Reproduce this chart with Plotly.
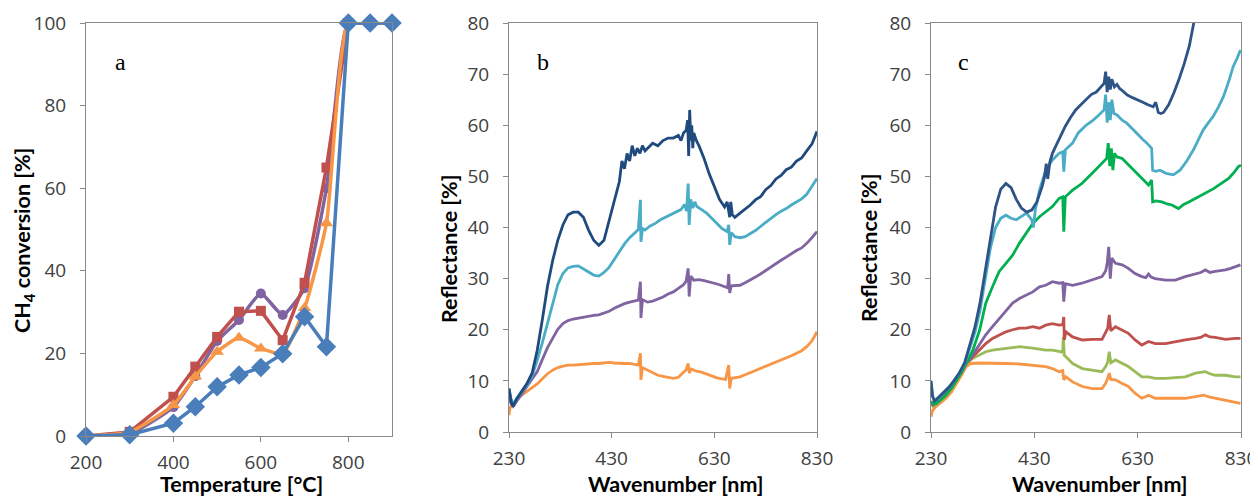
import plotly.graph_objects as go

# ---------------- Panel a: CH4 conversion ----------------
temp = [200, 300, 400, 450, 500, 550, 600, 650, 700, 750, 800, 850, 900]
conv_blue = [0, 0.3, 3.1, 7.1, 11.9, 14.8, 16.6, 19.9, 28.9, 21.6, 100, 100, 100]
conv_red = [0, 1.0, 9.5, 16.8, 24.0, 30.1, 30.3, 23.2, 37.1, 65.0, 100, 100, 100]
conv_purple = [0, 0.5, 7.0, 14.5, 23.0, 28.1, 34.5, 29.3, 35.8, 60.0, 100, 100, 100]
conv_orange = [0, 1.0, 7.5, 14.4, 20.4, 23.8, 21.2, 20.0, 31.0, 51.5, 100, 100, 100]

# ---------------- Panel b: reflectance spectra ----------------
b_navy_x = [230, 234, 238, 245, 255, 265, 275, 285, 295, 305, 315, 325, 335, 345, 355, 365, 375, 385, 395, 405,
            415, 425, 435, 445, 450, 455, 460, 465, 470, 475, 480, 485, 490, 495, 500, 510, 520, 530, 540, 550,
            560, 565, 570, 575, 578, 580, 582, 584, 586, 588, 590, 595, 600, 610, 620, 630, 640, 650, 655, 660,
            662, 665, 670, 680, 690, 700, 710, 720, 730, 740, 750, 760, 770, 780, 790, 800, 810, 820, 830]
b_navy_y = [8.5, 6.0, 5.0, 6.5, 8.0, 9.5, 11.5, 16.0, 22.0, 28.5, 33.5, 37.5, 40.5, 42.5, 43.0, 43.0, 42.0, 39.5, 37.5, 36.5,
            37.5, 41.5, 45.5, 49.0, 53.0, 51.5, 54.5, 53.0, 56.0, 54.0, 55.5, 54.5, 56.0, 55.0, 55.5, 56.5, 56.0, 57.0, 57.5, 57.5,
            58.0, 57.0, 58.5, 59.0, 61.0, 54.0, 63.0, 57.0, 60.0, 55.5, 58.5, 57.0, 56.0, 53.5, 50.5, 48.0, 45.5, 44.0, 45.0, 42.0,
            45.0, 42.5, 42.0, 42.8, 43.6, 44.4, 45.4, 46.0, 47.4, 48.2, 49.5, 50.2, 51.3, 51.8, 53.0, 53.6, 55.0, 56.3, 58.8]

b_cyan_x = [230, 234, 238, 245, 255, 265, 275, 285, 295, 305, 315, 325, 335, 345, 355, 365, 375, 385, 395, 405,
            415, 425, 435, 445, 455, 465, 475, 482, 486, 487, 490, 495, 505, 515, 525, 535, 545, 555, 565, 572,
            576, 579, 581, 584, 588, 592, 596, 605, 615, 625, 635, 645, 655, 658, 660, 663, 670, 680, 690, 700,
            710, 720, 730, 740, 750, 760, 770, 780, 790, 800, 810, 820, 830]
b_cyan_y = [8.5, 6.5, 5.5, 6.5, 7.8, 9.2, 11.0, 14.0, 17.5, 21.5, 25.0, 28.8, 31.0, 32.1, 32.4, 32.5, 31.9, 31.2, 30.7, 30.5,
            31.2, 32.2, 33.7, 35.3, 36.8, 38.0, 39.0, 39.6, 45.4, 37.2, 39.8, 39.5, 40.3, 40.8, 41.5, 42.0, 42.4, 43.0, 43.5, 44.5,
            43.2, 48.6, 40.5, 45.5, 43.8, 45.0, 44.1, 43.5, 42.8, 41.8, 40.8, 39.8, 39.2, 40.5, 36.6, 39.0, 38.2, 38.0, 38.2, 38.8,
            39.4, 40.2, 41.0, 41.8, 42.5, 43.2, 43.7, 44.4, 45.0, 45.6, 46.5, 48.0, 49.6]

b_purple_x = [230, 234, 238, 245, 255, 265, 275, 285, 295, 305, 315, 325, 335, 345, 355, 365, 375, 385, 395, 405,
              415, 425, 435, 445, 455, 465, 475, 482, 486, 487, 490, 500, 510, 520, 530, 540, 550, 560, 570, 575,
              579, 581, 584, 590, 600, 610, 620, 630, 640, 650, 656, 658, 660, 663, 670, 680, 690, 700, 710, 720,
              730, 740, 750, 760, 770, 780, 790, 800, 810, 820, 830]
b_purple_y = [6.8, 5.5, 5.0, 6.0, 7.5, 8.8, 10.3, 11.8, 14.2, 16.5, 18.3, 20.1, 21.2, 21.8, 22.1, 22.3, 22.5, 22.7, 22.8, 22.9,
              23.2, 23.6, 24.2, 24.7, 25.1, 25.4, 25.7, 25.8, 29.4, 22.3, 25.9, 25.4, 25.6, 26.0, 26.4, 27.0, 27.4, 28.1, 28.8, 29.5,
              32.0, 26.5, 30.5, 29.7, 29.8, 29.6, 29.4, 29.1, 28.8, 28.4, 28.2, 30.9, 27.2, 28.6, 28.6, 28.7, 29.2, 29.7, 30.3, 30.9,
              31.6, 32.3, 33.0, 33.6, 34.2, 34.9, 35.5, 36.0, 36.9, 38.0, 39.2]

b_orange_x = [230, 232, 236, 245, 255, 265, 275, 285, 295, 305, 315, 325, 335, 345, 355, 365, 375, 385, 395, 405,
              415, 425, 435, 445, 455, 465, 475, 482, 486, 487, 490, 500, 510, 520, 530, 540, 550, 560, 570, 575,
              579, 581, 585, 595, 605, 615, 625, 635, 645, 652, 658, 660, 663, 670, 680, 690, 700, 710, 720, 730,
              740, 750, 760, 770, 780, 790, 800, 810, 820, 830]
b_orange_y = [3.3, 4.8, 5.2, 6.3, 7.2, 7.9, 8.6, 9.4, 10.4, 11.4, 12.1, 12.6, 12.9, 13.1, 13.1, 13.2, 13.2, 13.4, 13.4, 13.4,
              13.5, 13.6, 13.5, 13.4, 13.4, 13.4, 13.3, 13.1, 15.4, 10.2, 12.6, 12.1, 11.6, 11.1, 10.9, 10.7, 10.5, 10.7, 11.6, 12.2,
              13.4, 11.5, 12.3, 11.9, 11.7, 11.3, 10.9, 10.6, 10.4, 10.3, 13.1, 8.5, 10.5, 10.6, 10.8, 11.2, 11.6, 12.0, 12.4, 12.8,
              13.2, 13.7, 14.1, 14.4, 14.9, 15.4, 15.9, 16.7, 17.8, 19.6]

# ---------------- Panel c: reflectance spectra ----------------
c_navy_x = [230, 233, 237, 245, 255, 265, 275, 285, 295, 305, 315, 325, 335, 345, 355, 365, 375, 385, 395, 405,
            415, 425, 435, 445, 450, 453, 456, 460, 465, 472, 480, 490, 500, 510, 520, 530, 540, 550, 560, 565,
            568, 571, 574, 577, 580, 585, 590, 595, 600, 610, 620, 630, 640, 650, 660, 665, 670, 675, 680, 690,
            700, 710, 720, 730, 735, 740, 750]
c_navy_y = [10.0, 7.0, 6.0, 6.8, 7.8, 8.8, 10.1, 11.6, 13.5, 16.8, 20.5, 25.3, 31.5, 38.5, 44.0, 47.5, 48.6, 47.8, 45.5, 43.8,
            43.0, 43.4, 45.0, 48.0, 50.0, 52.5, 49.5, 52.8, 54.5, 56.0, 57.8, 59.8, 61.5, 63.0, 64.0, 65.0, 66.0, 66.5, 67.5, 68.2,
            70.5, 66.5, 69.5, 67.0, 69.0, 67.5, 68.0, 67.2, 66.8, 65.9, 65.4, 65.0, 64.5, 64.0, 63.6, 64.5, 62.5, 62.3, 62.5, 64.0,
            66.3, 69.0, 72.0, 75.5, 78.0, 80.5, 86.0]

c_cyan_x = [230, 233, 237, 245, 255, 265, 275, 285, 295, 305, 315, 325, 335, 345, 355, 365, 375, 385, 395, 405,
            415, 425, 428, 432, 440, 452, 465, 478, 485, 487, 490, 504, 515, 530, 544, 555, 565, 568, 571, 574,
            577, 580, 584, 590, 600, 609, 620, 628, 640, 648, 657, 659, 665, 673, 685, 699, 712, 725, 738, 748,
            757, 767, 776, 786, 796, 806, 815, 822, 829]
c_cyan_y = [10.0, 7.0, 6.0, 6.8, 7.8, 8.8, 10.1, 11.5, 13.3, 16.3, 19.5, 23.8, 29.5, 36.0, 40.0, 41.8, 42.4, 41.8, 41.5, 42.2,
            42.8, 41.5, 40.0, 43.5, 47.3, 51.2, 53.2, 54.5, 54.8, 50.9, 55.2, 56.5, 58.5, 60.0, 61.0, 62.0, 63.0, 66.0, 60.5, 64.5,
            61.0, 65.0, 62.3, 62.0, 61.0, 60.4, 59.2, 58.4, 57.2, 56.5, 55.5, 51.2, 51.0, 51.2, 50.6, 50.3, 51.2, 53.0, 55.2, 57.3,
            59.1, 60.5, 61.7, 63.5, 65.6, 68.5, 71.5, 73.0, 74.7]

c_green_x = [230, 234, 240, 250, 259, 270, 278, 290, 298, 311, 324, 336, 349, 362, 375, 388, 401, 414, 427, 440,
             452, 465, 478, 485, 487, 490, 504, 522, 542, 561, 570, 573, 576, 579, 582, 585, 590, 600, 610, 619,
             628, 638, 651, 657, 659, 665, 677, 687, 696, 709, 719, 729, 738, 748, 758, 767, 777, 787, 797, 806,
             816, 825, 830]
c_green_y = [6.0, 5.5, 5.6, 6.5, 7.2, 8.6, 9.8, 11.8, 13.4, 16.0, 19.9, 25.2, 28.4, 31.4, 33.0, 34.6, 36.9, 38.9, 40.8, 42.1,
             43.1, 44.1, 45.7, 46.0, 39.2, 46.0, 47.3, 48.6, 50.6, 52.5, 53.5, 56.5, 52.0, 55.5, 51.2, 54.5, 53.8, 53.5, 52.5, 51.6,
             50.5, 49.6, 48.3, 49.3, 45.0, 45.2, 45.0, 44.6, 44.4, 43.7, 44.5, 45.0, 45.5, 46.0, 46.5, 47.0, 47.6, 48.3, 49.0, 49.6,
             50.7, 51.9, 52.2]

c_purple_x = [230, 234, 240, 250, 260, 270, 280, 290, 298, 311, 324, 336, 349, 362, 375, 388, 401, 414, 427, 440,
              452, 465, 478, 485, 487, 490, 504, 522, 542, 561, 568, 571, 574, 577, 580, 587, 600, 612, 625, 638,
              646, 651, 656, 664, 684, 703, 722, 742, 752, 761, 770, 780, 790, 800, 810, 819, 829]
c_purple_y = [6.0, 5.5, 5.6, 6.5, 7.6, 8.8, 10.3, 12.0, 13.4, 15.1, 17.0, 19.0, 20.6, 22.2, 23.8, 25.2, 26.1, 26.8, 27.4, 28.4,
              28.7, 29.4, 29.1, 29.2, 25.5, 29.0, 28.7, 29.1, 29.7, 30.4, 31.5, 33.0, 36.2, 30.0, 34.0, 33.0, 32.7, 32.0, 31.0, 30.4,
              30.2, 30.9, 30.3, 30.0, 29.7, 29.7, 30.4, 31.0, 31.2, 31.7, 31.2, 31.4, 31.5, 31.7, 32.0, 32.3, 32.7]

c_red_x = [230, 234, 240, 250, 260, 270, 280, 290, 298, 311, 324, 336, 349, 362, 375, 388, 401, 414, 427, 440,
           452, 465, 478, 485, 487, 488, 491, 504, 523, 542, 561, 568, 572, 575, 578, 587, 600, 612, 625, 638,
           651, 664, 684, 703, 722, 742, 752, 761, 770, 780, 800, 819, 829]
c_red_y = [5.8, 5.3, 5.6, 6.5, 7.6, 8.8, 10.3, 12.0, 13.4, 14.7, 16.0, 17.3, 18.3, 19.0, 19.6, 20.0, 20.3, 20.3, 20.6, 20.3,
           20.9, 21.2, 20.9, 21.0, 22.5, 18.0, 19.6, 18.6, 18.0, 18.1, 18.1, 19.5, 20.3, 22.9, 19.8, 20.6, 20.0, 19.3, 18.0, 17.0,
           17.7, 17.3, 17.3, 17.7, 18.0, 18.3, 18.5, 19.0, 18.6, 18.5, 18.1, 18.3, 18.3]

c_lgreen_x = [230, 234, 240, 250, 260, 270, 280, 290, 298, 311, 324, 336, 349, 375, 401, 427, 452, 465, 478, 485,
              486, 488, 491, 504, 523, 542, 561, 568, 572, 575, 578, 587, 600, 612, 625, 638, 651, 664, 684, 703,
              722, 742, 752, 761, 770, 780, 800, 819, 829]
c_lgreen_y = [5.5, 5.0, 5.4, 6.3, 7.5, 8.7, 10.2, 11.9, 13.4, 14.4, 15.1, 15.7, 16.0, 16.4, 16.7, 16.4, 16.0, 16.0, 15.7, 15.6,
              18.6, 15.0, 14.7, 13.4, 12.4, 12.1, 11.8, 12.8, 13.7, 15.7, 13.5, 14.1, 13.4, 12.8, 11.8, 10.8, 10.8, 10.5, 10.5, 10.7,
              10.8, 11.5, 11.7, 11.8, 11.4, 11.1, 11.1, 10.8, 10.8]

c_orange_x = [230, 233, 240, 250, 259, 270, 278, 290, 298, 307, 324, 349, 375, 401, 427, 452, 465, 478, 485, 487,
              491, 504, 523, 542, 561, 568, 572, 575, 578, 587, 600, 612, 625, 638, 645, 651, 664, 684, 703, 722,
              742, 758, 770, 780, 800, 819, 829]
c_orange_y = [3.0, 4.2, 5.0, 5.8, 6.6, 7.9, 9.2, 11.3, 12.8, 13.4, 13.5, 13.5, 13.4, 13.3, 13.1, 12.8, 12.4, 11.8, 12.0, 10.2,
              10.8, 9.8, 8.9, 8.5, 8.5, 9.5, 10.5, 11.5, 10.3, 10.2, 9.5, 8.9, 7.6, 6.6, 6.9, 7.2, 6.6, 6.6, 6.6, 6.6,
              6.9, 7.2, 6.8, 6.6, 6.3, 5.9, 5.6]

wave_ticks = [230, 430, 630, 830]

# ---------------- styles ----------------
AX = "#898989"
TICKFONT = dict(family="Open Sans", size=19, color="#404040")
TITLEFONT = dict(family="Lato", size=21.5, color="#000000")

fig = go.Figure()

# panel a traces (drawn order: purple, red, orange, blue)
fig.add_trace(go.Scatter(x=temp, y=conv_purple, mode="lines+markers", cliponaxis=False,
                         line=dict(color="#8064A2", width=3.5, shape="spline", smoothing=0.5),
                         marker=dict(symbol="circle", size=10, color="#8064A2"), xaxis="x", yaxis="y"))
fig.add_trace(go.Scatter(x=temp, y=conv_red, mode="lines+markers", cliponaxis=False,
                         line=dict(color="#C0504D", width=3.5),
                         marker=dict(symbol="square", size=10, color="#C0504D"), xaxis="x", yaxis="y"))
fig.add_trace(go.Scatter(x=temp, y=conv_orange, mode="lines+markers", cliponaxis=False,
                         line=dict(color="#F79646", width=3.5, shape="spline", smoothing=0.5),
                         marker=dict(symbol="triangle-up", size=12, color="#F79646"), xaxis="x", yaxis="y"))
fig.add_trace(go.Scatter(x=temp, y=conv_blue, mode="lines+markers", cliponaxis=False,
                         line=dict(color="#4A7EBB", width=3.5),
                         marker=dict(symbol="diamond", size=15, color="#4A7EBB"), xaxis="x", yaxis="y"))

# panel b traces
for xs, ys, col in [(b_orange_x, b_orange_y, "#F79646"), (b_purple_x, b_purple_y, "#8064A2"),
                    (b_cyan_x, b_cyan_y, "#4BACC6"), (b_navy_x, b_navy_y, "#1F4A7E")]:
    fig.add_trace(go.Scatter(x=xs, y=ys, mode="lines", line=dict(color=col, width=2.8),
                             xaxis="x2", yaxis="y2"))

# panel c traces
for xs, ys, col in [(c_orange_x, c_orange_y, "#F79646"), (c_lgreen_x, c_lgreen_y, "#9BBB59"),
                    (c_red_x, c_red_y, "#C0504D"), (c_purple_x, c_purple_y, "#8064A2"),
                    (c_green_x, c_green_y, "#00B050"), (c_cyan_x, c_cyan_y, "#4BACC6"),
                    (c_navy_x, c_navy_y, "#2E5386")]:
    fig.add_trace(go.Scatter(x=xs, y=ys, mode="lines", line=dict(color=col, width=2.8),
                             xaxis="x3", yaxis="y3"))

# The page body has an 8px default margin: the figure is drawn from (8, 8)
# in the window, so window pixel positions are converted by removing it.
OFF = 8
W, H = 1258 - OFF, 497 - OFF


def xd(l, r):
    return [(l - OFF) / W, (r - OFF) / W]


def yd(t, b):
    return [1 - (b - OFF) / H, 1 - (t - OFF) / H]


common = dict(showline=True, linecolor=AX, linewidth=1, mirror=True, ticks="outside",
              ticklen=5, tickcolor=AX, showgrid=False, zeroline=False, tickfont=TICKFONT,
              automargin=False)

fig.update_layout(
    width=W, height=H, margin=dict(l=0, r=0, t=0, b=0, autoexpand=False),
    paper_bgcolor="white", plot_bgcolor="white", showlegend=False,
    xaxis=dict(domain=xd(86, 392), range=[200, 900], tickvals=[200, 400, 600, 800],
               anchor="y", ticklabelstandoff=4, **common),
    yaxis=dict(domain=yd(23, 436), range=[0, 100], dtick=20, anchor="x",
               ticklabelstandoff=10, **common),
    xaxis2=dict(domain=xd(509, 817), range=[230, 830], tickvals=wave_ticks,
                anchor="y2", ticklabelstandoff=4, **common),
    yaxis2=dict(domain=yd(23, 432), range=[0, 80], dtick=10, anchor="x2",
                ticklabelstandoff=10, **common),
    xaxis3=dict(domain=xd(931, 1241), range=[230, 830], tickvals=wave_ticks,
                anchor="y3", ticklabelstandoff=4, **common),
    yaxis3=dict(domain=yd(23, 432), range=[0, 80], dtick=10, anchor="x3",
                ticklabelstandoff=10, **common),
)


def ann(text, x, y, angle=0, font=TITLEFONT):
    fig.add_annotation(text=text, x=(x - OFF) / W, y=1 - (y - OFF) / H, xref="paper", yref="paper",
                       showarrow=False, textangle=angle, font=font,
                       xanchor="center", yanchor="middle")


ann("<b>Temperature [°C]</b>", 241, 484)
ann("<b>Wavenumber [nm]</b>", 676, 484)
ann("<b>Wavenumber [nm]</b>", 1100, 484)
ann("<b>CH<sub>4</sub> conversion [%]</b>", 23, 241, angle=-90)
ann("<b>Reflectance [%]</b>", 449, 249, angle=-90)
ann("<b>Reflectance [%]</b>", 869, 248, angle=-90)

LETTER = dict(family="Liberation Serif", size=24, color="#000000")
ann("a", 120, 62, font=LETTER)
ann("b", 543, 62, font=LETTER)
ann("c", 963, 62, font=LETTER)

fig.write_html("out.html")
